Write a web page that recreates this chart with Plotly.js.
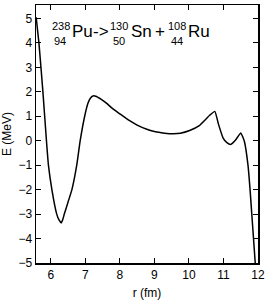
<!DOCTYPE html>
<html>
<head>
<meta charset="utf-8">
<script src="https://cdn.plot.ly/plotly-3.0.1.min.js"></script>
<style>
html,body{margin:0;padding:0;background:#fff;}
#chart{width:272px;height:300px;}
</style>
</head>
<body>
<div id="chart"></div>
<script>
// Distance between fragments r (fm)
const rValues = [5.575, 5.655, 5.77, 5.87, 5.93, 6.03, 6.17, 6.24, 6.30, 6.35, 6.39, 6.50, 6.61, 6.75, 6.85, 6.98, 7.08, 7.15, 7.22, 7.30, 7.45, 7.60, 7.79, 8.00, 8.27, 8.50, 8.78, 9.00, 9.20, 9.36, 9.55, 9.75, 10.02, 10.30, 10.60, 10.75, 10.85, 10.99, 11.10, 11.21, 11.35, 11.50, 11.56, 11.61, 11.71, 11.77, 11.82, 11.87, 11.92];
// Potential energy E (MeV)
const eValues = [5.05, 4.0, 2.0, 0.05, -1.0, -2.0, -3.0, -3.25, -3.36, -3.2, -3.0, -2.5, -2.0, -1.0, 0.0, 1.0, 1.55, 1.75, 1.83, 1.82, 1.70, 1.55, 1.31, 1.10, 0.83, 0.64, 0.47, 0.38, 0.33, 0.30, 0.29, 0.31, 0.42, 0.62, 1.04, 1.20, 0.70, 0.11, -0.08, -0.15, 0.03, 0.32, 0.15, -0.05, -1.0, -2.0, -3.0, -4.0, -5.0];
const xTickVals = [6, 7, 8, 9, 10, 11, 12];
const yTickVals = [-5, -4, -3, -2, -1, 0, 1, 2, 3, 4, 5];
const xTitle = 'r (fm)';
const yTitle = 'E (MeV)';
// Reaction label pieces: [text, kind]
const reactionParts = [
  ['238', 'sup'], ['94', 'sub'], ['Pu', 'main'], ['->', 'main'],
  ['130', 'sup'], ['50', 'sub'], ['Sn', 'main'], ['+', 'main'],
  ['108', 'sup'], ['44', 'sub'], ['Ru', 'main']
];

const FONT = 'Liberation Sans, Arial, Helvetica, sans-serif';
const W = 272, H = 300, ML = 36, MR = 14, MT = 5, MB = 37;
const PW = W - ML - MR, PH = H - MT - MB;
// pixel positions (left x, center y) for the reaction label pieces
const partPix = [
  [50.5, 26], [53, 41], [70.5, 32], [92, 32],
  [109, 26], [112, 41], [129.5, 32], [154, 32],
  [167, 26], [170, 41], [186.5, 32]
];
const annotations = reactionParts.map((p, i) => ({
  text: p[0],
  xref: 'paper', yref: 'paper',
  x: (partPix[i][0] - ML) / PW,
  y: (H - MB - partPix[i][1]) / PH,
  xanchor: 'left', yanchor: 'middle',
  showarrow: false,
  borderpad: 0,
  font: {family: FONT, size: p[1] === 'main' ? 17 : 11, color: '#000'}
}));

const trace = {
  x: rValues, y: eValues,
  type: 'scatter', mode: 'lines',
  line: {color: '#000', width: 1.5, shape: 'spline', smoothing: 0.4},
  hoverinfo: 'skip'
};

const axisCommon = {
  showgrid: false, zeroline: false, showline: true, mirror: 'ticks',
  linecolor: '#000', linewidth: 1.5,
  ticks: 'inside', ticklen: 5, tickwidth: 1, tickcolor: '#000',
  tickfont: {family: FONT, size: 12, color: '#000'},
  tickmode: 'array'
};

const layout = {
  width: W, height: H,
  margin: {l: ML, r: MR, t: MT, b: MB, pad: 0},
  paper_bgcolor: '#fff', plot_bgcolor: '#fff',
  showlegend: false,
  xaxis: Object.assign({}, axisCommon, {
    range: [5.57, 12], tickvals: xTickVals,
    ticktext: xTickVals.map(String),
    title: {text: xTitle, font: {family: FONT, size: 12, color: '#000'}, standoff: 9}
  }),
  yaxis: Object.assign({}, axisCommon, {
    range: [-5, 5.55], tickvals: yTickVals,
    ticktext: yTickVals.map(v => v < 0 ? '\u2212' + Math.abs(v) : String(v)),
    title: {text: yTitle, font: {family: FONT, size: 12, color: '#000'}, standoff: 10}
  }),
  annotations: annotations
};

Plotly.newPlot('chart', [trace], layout, {staticPlot: true, displayModeBar: false});
</script>
</body>
</html>
